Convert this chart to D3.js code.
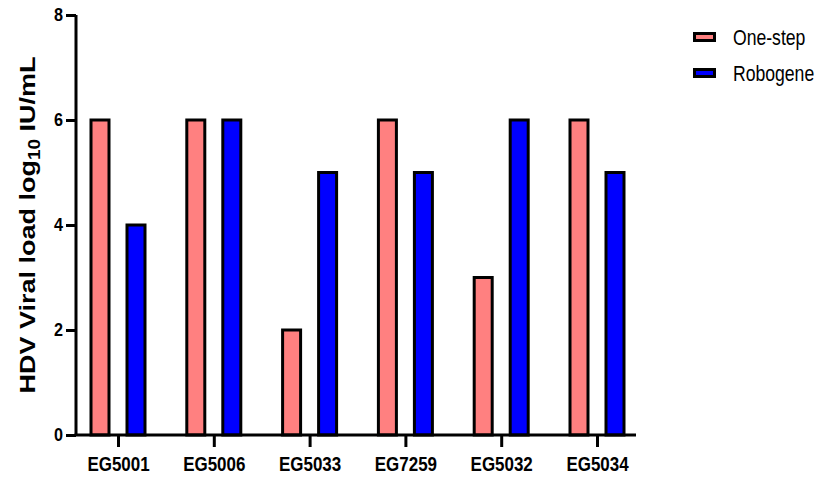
<!DOCTYPE html>
<html>
<head>
<meta charset="utf-8">
<script src="https://cdn.jsdelivr.net/npm/d3@7"></script>
<style>
  html, body { margin: 0; padding: 0; background: #fff; }
  svg { display: block; }
  text { font-family: Arial, "Liberation Sans", sans-serif; }
</style>
</head>
<body>
<svg id="chart" width="828" height="479"></svg>
<script>
// Samples and per-method viral load (log10 IU/mL)
const samples = ["EG5001", "EG5006", "EG5033", "EG7259", "EG5032", "EG5034"];
const oneStep = [6, 6, 2, 6, 3, 6];
const robogene = [4, 6, 5, 5, 6, 5];
const seriesNames = ["One-step", "Robogene"];
const seriesColors = ["#FF8080", "#0000FF"];
const yTicks = [0, 2, 4, 6, 8];

const FONT = "Arial, 'Liberation Sans', sans-serif";
const svg = d3.select("#chart");
const axisX = 76, plotTop = 15, plotBottom = 435, rightEnd = 636;

const x = d3.scalePoint().domain(samples).range([118, 597]);
const y = d3.scaleLinear().domain([0, 8]).range([plotBottom, plotTop]);

const barW = 18, offset = 18;
const series = [oneStep, robogene];

// bars
series.forEach((vals, si) => {
  svg.append("g").selectAll("rect")
    .data(samples.map((s, i) => ({ s, v: vals[i] })))
    .join("rect")
    .attr("x", d => x(d.s) + (si === 0 ? -offset : offset) - barW / 2)
    .attr("y", d => y(d.v))
    .attr("width", barW)
    .attr("height", d => y(0) - y(d.v))
    .attr("fill", seriesColors[si])
    .attr("stroke", "#000")
    .attr("stroke-width", 3);
});

// y axis
const yAxis = svg.append("g").attr("transform", `translate(${axisX},0)`)
  .call(d3.axisLeft(y).tickValues(yTicks).tickSize(10).tickFormat(d3.format("d")));
yAxis.select(".domain").attr("d", `M0,${plotTop}V${plotBottom}`).attr("stroke-width", 3);
yAxis.selectAll(".tick line").attr("stroke-width", 3);
yAxis.selectAll(".tick text")
  .attr("x", 0)
  .attr("transform", "translate(-13,0) scale(0.9,1)")
  .attr("font-size", 18).attr("font-weight", "bold").attr("fill", "#000")
  .attr("font-family", FONT);

// x axis
const xAxis = svg.append("g").attr("transform", `translate(0,${plotBottom})`)
  .call(d3.axisBottom(x).tickSize(12));
xAxis.select(".domain").attr("d", `M${axisX - 1.5},0H${rightEnd}`).attr("stroke-width", 3);
xAxis.selectAll(".tick line").attr("stroke-width", 3);
xAxis.selectAll(".tick text")
  .attr("y", 36).attr("dy", null)
  .attr("transform", "scale(0.87,1)")
  .attr("font-size", 19.5).attr("font-weight", "bold").attr("fill", "#000")
  .attr("font-family", FONT);

// y axis title
const title = svg.append("text")
  .attr("transform", `translate(35,${(plotTop + plotBottom) / 2}) rotate(-90) scale(1,0.82)`)
  .attr("text-anchor", "middle")
  .attr("font-size", 27).attr("font-weight", "bold");
title.append("tspan").text("HDV Viral load log");
title.append("tspan").attr("font-size", 19).attr("dy", 6).text("10");
title.append("tspan").attr("dy", -6).text(" IU/mL");

// legend
const legend = svg.append("g");
seriesNames.forEach((name, i) => {
  const cy = 37 + i * 36;
  legend.append("rect")
    .attr("x", 694.5).attr("y", cy - 3.5)
    .attr("width", 20).attr("height", 7)
    .attr("fill", seriesColors[i])
    .attr("stroke", "#000").attr("stroke-width", 3);
  legend.append("text")
    .attr("transform", `translate(733,${cy + 8}) scale(0.8,1)`)
    .attr("font-size", 22)
    .text(name);
});
</script>
</body>
</html>
